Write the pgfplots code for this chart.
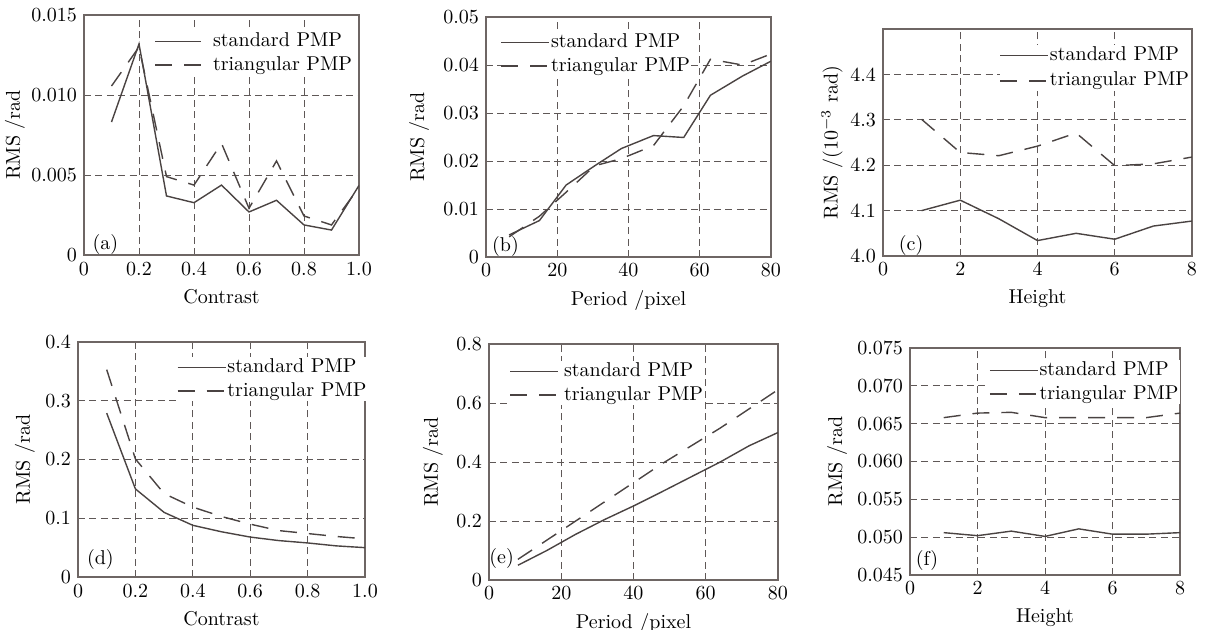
\documentclass[border=0pt]{standalone}
\usepackage{pgfplots}
\pgfplotsset{compat=1.18}
\definecolor{linec}{HTML}{4A4342}
\definecolor{framec}{HTML}{6E6664}
\definecolor{gridc}{HTML}{5F5857}
\pgfplotsset{
  pmp/.style={
    scale only axis, anchor=south west,
    scaled x ticks=false, scaled y ticks=false,
    axis line style={framec, line width=0.6pt},
    grid=major,
    major grid style={gridc, dash pattern=on 3.5pt off 2.2pt, line width=0.5pt},
    major tick length=0pt,
    tick label style={font=\fontsize{10}{12}\selectfont},
    label style={font=\fontsize{10}{12}\selectfont},
    legend style={draw=none, fill=white, font=\fontsize{10}{12}\selectfont,
      inner sep=0pt, row sep=1.8pt,
      nodes={inner sep=0.5pt, text height=7pt, text depth=2pt},
      legend cell align=left},
    legend image code/.code={\draw[##1] (0pt,0pt) -- (24pt,0pt);},
    every axis plot/.append style={line width=0.7pt},
    no markers,
  },
  ylab/.style={every axis y label/.style={at={(axis description cs:#1,0.5)},
    rotate=90, anchor=center}},
  sp/.style={linec, solid},
  tp/.style={linec, dash pattern=on 8.5pt off 6pt},
}
\begin{document}
\begin{tikzpicture}
\useasboundingbox (0,0) rectangle (608pt,-314.5pt);
% (a)
\begin{axis}[pmp, at={(42pt,-127.5pt)}, width=137.5pt, height=120pt,
  xmin=0, xmax=1, ymin=0, ymax=0.015,
  xtick={0,0.2,0.4,0.6,0.8,1.0}, xticklabels={0,0.2,0.4,0.6,0.8,1.0},
  ytick={0,0.005,0.010,0.015}, yticklabels={0,0.005,0.010,0.015},
  xlabel={Contrast}, ylabel={RMS /rad}, ylab=-0.251,
  legend image code/.code={\draw[#1] (0pt,0pt) -- (23pt,0pt); \path (28pt,0pt);},
  legend style={at={(0.98,0.933)}, anchor=north east}]
\addplot[sp] coordinates {(0.1,0.00831) (0.2,0.01319) (0.3,0.00369) (0.4,0.00327) (0.5,0.00437) (0.6,0.00269) (0.7,0.00342) (0.8,0.00188) (0.9,0.00156) (1.0,0.00435)};
\addlegendentry{standard PMP}
\addplot[tp] coordinates {(0.1,0.01056) (0.2,0.01300) (0.3,0.00490) (0.4,0.00437) (0.5,0.00698) (0.6,0.00292) (0.7,0.00588) (0.8,0.00244) (0.9,0.00188) (1.0,0.00423)};
\addlegendentry{triangular PMP}
\node[anchor=south west, inner sep=0pt] at (rel axis cs:0.03,0) {(a)};
\end{axis}
% (b)
\begin{axis}[pmp, at={(243pt,-128.5pt)}, width=142.5pt, height=120pt,
  xmin=0, xmax=80, ymin=0, ymax=0.05,
  xtick={0,20,40,60,80},
  ytick={0,0.01,0.02,0.03,0.04,0.05}, yticklabels={0,0.01,0.02,0.03,0.04,0.05},
  xlabel={Period /pixel}, ylabel={RMS /rad}, ylab=-0.235,
  legend style={at={(0.05,0.9375)}, anchor=north west}]
\addplot[sp] coordinates {(6.5,0.0046) (15,0.0076) (22.5,0.0150) (30.5,0.0190) (38,0.0226) (47,0.0253) (55.5,0.0249) (63,0.0337) (72,0.0377) (80,0.0408)};
\addlegendentry{standard PMP}
\addplot[tp] coordinates {(6.5,0.0042) (15,0.0085) (22.5,0.0135) (30.5,0.0190) (38,0.0205) (47,0.0232) (55.5,0.0315) (63,0.0412) (72,0.0400) (80,0.0423)};
\addlegendentry{triangular PMP}
\node[anchor=south west, inner sep=0pt] at (rel axis cs:0.02,0) {(b)};
\end{axis}
% (c)
\begin{axis}[pmp, at={(441.5pt,-128pt)}, width=154.5pt, height=113.5pt,
  xmin=0, xmax=8, ymin=4.0, ymax=4.5,
  xtick={0,2,4,6,8},
  ytick={4.0,4.1,4.2,4.3,4.4}, yticklabels={4.0,4.1,4.2,4.3,4.4},
  xlabel={Height}, ylabel={RMS /($10^{-3}$ rad)}, ylab=-0.165,
  legend style={at={(0.995,0.93)}, anchor=north east, row sep=2.8pt}]
\addplot[sp] coordinates {(1,4.100) (2,4.123) (3,4.082) (4,4.034) (5,4.050) (6,4.037) (7,4.066) (8,4.077)};
\addlegendentry{standard PMP}
\addplot[tp] coordinates {(1,4.301) (2,4.228) (3,4.221) (4,4.242) (5,4.271) (6,4.199) (7,4.203) (8,4.218)};
\addlegendentry{triangular PMP}
\node[anchor=south west, inner sep=0pt] at (rel axis cs:0.05,0) {(c)};
\end{axis}
% (d)
\begin{axis}[pmp, at={(39pt,-288.5pt)}, width=143.5pt, height=117.5pt,
  xmin=0, xmax=1, ymin=0, ymax=0.4,
  xtick={0,0.2,0.4,0.6,0.8,1.0}, xticklabels={0,0.2,0.4,0.6,0.8,1.0},
  ytick={0,0.1,0.2,0.3,0.4}, yticklabels={0,0.1,0.2,0.3,0.4},
  xlabel={Contrast}, ylabel={RMS /rad}, ylab=-0.185,
  legend style={at={(1.01,0.936)}, anchor=north east}]
\addplot[sp] coordinates {(0.1,0.279) (0.2,0.150) (0.3,0.110) (0.4,0.088) (0.5,0.077) (0.6,0.068) (0.7,0.062) (0.8,0.058) (0.9,0.053) (1.0,0.050)};
\addlegendentry{standard PMP}
\addplot[tp] coordinates {(0.1,0.353) (0.2,0.201) (0.3,0.142) (0.4,0.119) (0.5,0.103) (0.6,0.090) (0.7,0.079) (0.8,0.074) (0.9,0.069) (1.0,0.065)};
\addlegendentry{triangular PMP}
\node[anchor=south west, inner sep=0pt] at (rel axis cs:0.03,0.03) {(d)};
\end{axis}
% (e)
\begin{axis}[pmp, at={(244.5pt,-290pt)}, width=144.5pt, height=118pt,
  xmin=0, xmax=80, ymin=0, ymax=0.8,
  xtick={0,20,40,60,80},
  ytick={0,0.2,0.4,0.6,0.8}, yticklabels={0,0.2,0.4,0.6,0.8},
  xlabel={Period /pixel}, ylabel={RMS /rad}, ylab=-0.194,
  legend image code/.code={\draw[#1] (0pt,0pt) -- (24pt,0pt); \path (26pt,0pt);},
  legend style={at={(0.07,0.928)}, anchor=north west}]
\addplot[sp] coordinates {(8,0.050) (16,0.100) (24,0.155) (32,0.205) (40,0.251) (48,0.300) (56,0.350) (64,0.400) (72,0.455) (80,0.500)};
\addlegendentry{standard PMP}
\addplot[tp] coordinates {(8,0.070) (16,0.135) (24,0.200) (32,0.265) (40,0.330) (48,0.395) (56,0.455) (64,0.515) (72,0.580) (80,0.645)};
\addlegendentry{triangular PMP}
\node[anchor=south west, inner sep=0pt] at (rel axis cs:0.0,0.045) {(e)};
\end{axis}
% (f)
\begin{axis}[pmp, at={(455pt,-287.5pt)}, width=135pt, height=113.5pt,
  xmin=0, xmax=8, ymin=0.045, ymax=0.075,
  xtick={0,2,4,6,8},
  ytick={0.045,0.050,0.055,0.060,0.065,0.070,0.075},
  yticklabels={0.045,0.050,0.055,0.060,0.065,0.070,0.075},
  xlabel={Height}, ylabel={RMS /rad}, ylab=-0.270,
  legend style={at={(1.0,0.947)}, anchor=north east}]
\addplot[sp] coordinates {(1,0.0506) (2,0.0502) (3,0.0508) (4,0.0501) (5,0.0511) (6,0.0504) (7,0.0504) (8,0.0506)};
\addlegendentry{standard PMP}
\addplot[tp] coordinates {(1,0.0658) (2,0.0664) (3,0.0665) (4,0.0658) (5,0.0658) (6,0.0658) (7,0.0658) (8,0.0664)};
\addlegendentry{triangular PMP}
\node[anchor=south west, inner sep=0pt] at (rel axis cs:0.02,0.018) {(f)};
\end{axis}
\end{tikzpicture}
\end{document}
